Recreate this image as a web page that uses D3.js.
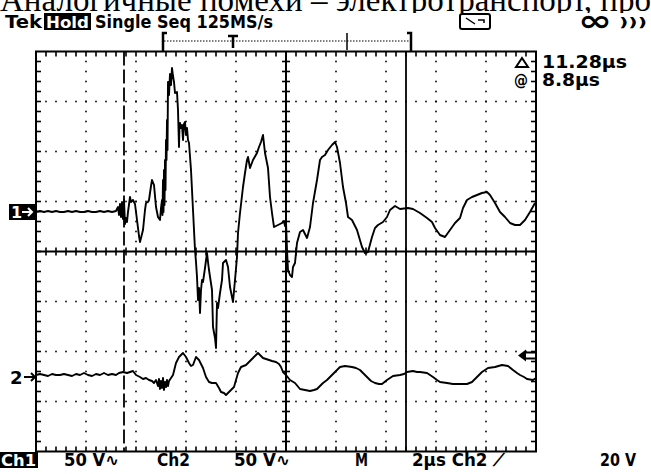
<!DOCTYPE html>
<html><head><meta charset="utf-8">
<script src="https://cdn.jsdelivr.net/npm/d3@7"></script>
<style>body{margin:0;background:#fff}svg{display:block}</style>
</head><body><svg id="c" width="651" height="474"></svg>
<script>
// ---- data (time in µs from left edge of screen, volts relative to channel ground) ----
const ch1Time=[0,0.16,0.32,0.48,0.64,0.80,0.96,1.12,1.28,1.44,1.60,1.76,1.92,2.08,2.24,2.40,2.56,2.72,2.88,3.04,3.20,
3.28,3.32,3.36,3.40,3.44,3.48,3.52,3.56,3.60,3.64,3.68,3.76,3.80,3.88,3.96,4.04,4.12,4.16,4.24,4.28,4.36,4.40,4.48,4.52,4.60,4.64,4.72,4.80,4.88,4.96,5.00,5.04,5.06,5.08,5.10,5.12,5.14,5.16,5.18,5.20,5.22,5.24,5.26,5.28,5.32,5.36,5.40,5.44,5.48,5.52,5.56,5.64,5.68,5.72,5.74,5.76,5.80,5.84,5.88,5.92,5.96,6.00,6.04,6.08,6.12,6.20,6.28,6.36,6.40,6.44,6.48,6.52,6.56,6.60,6.64,6.68,6.76,6.84,6.88,6.92,7.04,7.08,7.16,7.20,7.24,7.28,7.36,7.44,7.48,7.60,7.68,7.76,7.88,7.96,8.04,8.08,8.16,8.28,8.36,8.44,8.48,8.56,8.68,8.84,8.92,9.00,9.08,9.16,9.28,9.36,9.44,9.52,9.68,9.84,9.92,9.96,10.00,10.04,10.08,10.16,10.24,10.28,10.36,10.44,10.56,10.68,10.84,10.96,11.08,11.24,11.36,11.44,11.56,11.68,11.84,11.96,12.04,12.16,12.28,12.40,12.48,12.64,12.84,13.04,13.16,13.28,13.44,13.56,13.68,13.88,14.04,14.16,14.36,14.56,14.88,15.08,15.36,15.64,15.84,15.96,16.16,16.36,16.56,16.76,16.96,17.08,17.24,17.44,17.64,17.84,18.04,18.16,18.36,18.56,18.76,18.96,19.16,19.36,19.56,19.76,19.96];
const ch1Volt=[0,1,0,1,0,1,0,0,1,0,1,0,0,1,0,0,1,0,1,0,1,
5,-3,8,-5,10,-7,12,-12,-6,-10,0,15,10,12,8,-8,-24,-30,-22,-18,2,9,10,12,26,32,27,5,-5,-8,4,12,-3,32,0,42,7,52,22,72,52,92,62,130,117,138,127,144,136,130,119,120,102,65,87,89,84,87,72,88,90,77,84,72,69,42,2,-38,-50,-65,-88,-76,-101,-78,-68,-70,-56,-41,-50,-58,-78,-115,-126,-136,-91,-96,-81,-68,-51,-48,-55,-75,-90,-68,-45,-21,-1,25,39,52,55,44,52,59,65,70,77,59,44,15,-1,-15,-13,-11,-9,-14,-10,-38,-58,-63,-65,-55,-51,-31,-20,-18,-26,-15,9,32,52,55,57,62,67,70,65,49,25,9,-5,-8,-18,-35,-41,-40,-25,-16,-13,-10,-5,2,6,3,4,3,-1,-6,-10,-16,-23,-25,-18,-11,-6,4,12,15,17,19,20,17,9,0,-5,-11,-13,-13,-8,0,9];
const ch2Time=[0,0.16,0.32,0.48,0.64,0.80,0.96,1.12,1.28,1.44,1.60,1.76,1.92,2.08,2.24,2.40,2.56,2.72,2.88,3.04,3.20,3.32,3.48,3.64,3.76,3.88,4.00,4.16,4.28,4.40,4.52,4.64,4.72,4.80,4.88,4.92,4.96,5.00,5.04,5.08,5.12,5.16,5.20,5.24,5.28,5.32,5.40,5.48,5.60,5.72,5.80,5.88,6.00,6.12,6.20,6.28,6.40,6.52,6.68,6.80,6.92,7.04,7.20,7.32,7.40,7.52,7.60,7.72,7.92,8.00,8.08,8.20,8.40,8.56,8.68,8.80,8.88,9.00,9.08,9.20,9.32,9.44,9.60,9.72,9.80,9.88,10.00,10.16,10.36,10.56,10.76,10.96,11.12,11.24,11.36,11.48,11.64,11.76,11.96,12.16,12.36,12.64,12.80,12.96,13.12,13.28,13.40,13.56,13.72,13.84,14.04,14.16,14.28,14.56,14.72,14.84,15.08,15.24,15.36,15.64,15.76,15.88,16.04,16.16,16.44,16.68,16.96,17.24,17.44,17.64,17.84,18.08,18.36,18.64,18.88,19.08,19.24,19.36,19.52,19.64,19.88,20.00];
const ch2Volt=[2,3,2,1,3,2,2,3,2,1,3,2,4,2,1,3,2,4,2,3,2,4,5,4,5,6,2,0,-2,-1,-3,-4,-6,-3,-9,-2,-12,-4,-11,-1,-13,-5,-10,-3,-9,-4,-1,2,14,20,22,24,20,14,11,12,20,17,9,0,-5,-6,-6,-11,-15,-16,-18,-15,-10,-3,4,10,12,16,19,22,24,21,19,18,17,16,15,13,10,5,2,-3,-6,-12,-13,-14,-13,-12,-9,-6,-3,0,5,10,11,10,9,7,3,-1,-4,-6,-7,-7,-3,-1,1,2,3,5,6,5,5,4,2,0,-3,-5,-6,-7,-7,-7,-5,0,5,9,10,12,11,7,4,2,0,-2,-3,-1];

const timeSpan=[0,20];            // µs across the screen (2 µs/div)
const divSpan=[-4,4];             // vertical divisions
const voltsPerDiv=[50,50];        // Ch1, Ch2
const groundDiv=[0.79,-2.51];     // channel ground positions (div from centre)
const triggerLevelDiv=-2.08;
const cursorTimes=[3.52,14.80];

const header=["Tek","Hold","Single Seq 125MS/s"];
const readouts=["11.28µs","8.8µs"];
const footer=["Ch1","50 V∿","Ch2","50 V∿","M","2µs Ch2 ⟋","20 V"];
const caption="Аналогичные помехи – электротранспорт, про";

// ---- drawing ----
const svg=d3.select("#c");
svg.append("rect").attr("width",651).attr("height",474).attr("fill","#fff");
const x=d3.scaleLinear().domain(timeSpan).range([36,536]);
const y=d3.scaleLinear().domain(divSpan).range([451.5,51.5]);
const FONT="'DejaVu Sans', sans-serif";

// caption line cut at the top (line of a document above the screenshot)
svg.append("text").attr("x",0).attr("y",11).attr("font-family","'Liberation Serif', serif")
  .attr("font-size",33).attr("fill","#000").text(caption);
// header band background so the caption's descenders stay above
svg.append("rect").attr("x",0).attr("y",13).attr("width",651).attr("height",20).attr("fill","#fff");

// dotted grid
const g=svg.append("g");
const vLines=d3.range(2,20,2).filter(t=>t!==10);
const hLines=[-3,-2,-1,1,2,3];
const dots=[];
vLines.forEach(t=>d3.range(-3.8,3.81,0.2).forEach(d=>dots.push([x(t),y(d)])));
hLines.forEach(d=>d3.range(0.4,19.61,0.4).forEach(t=>dots.push([x(t),y(d)])));
g.selectAll(".dot").data(dots).join("rect").attr("x",d=>d[0]-0.8).attr("y",d=>d[1]-0.8)
  .attr("width",1.6).attr("height",1.6).attr("fill","#000");

// border ticks
const tk=[];
d3.range(0.4,19.61,0.4).forEach(t=>{tk.push([x(t),y(4),x(t),y(4)+5]);tk.push([x(t),y(-4),x(t),y(-4)-5]);
  tk.push([x(t),y(0)-4,x(t),y(0)+4]);});
d3.range(-3.8,3.81,0.2).forEach(d=>{tk.push([x(0),y(d),x(0)+5,y(d)]);tk.push([x(20),y(d),x(20)-5,y(d)]);
  tk.push([x(10)-4,y(d),x(10)+4,y(d)]);});
g.selectAll(".tk").data(tk).join("line").attr("x1",d=>d[0]).attr("y1",d=>d[1]).attr("x2",d=>d[2]).attr("y2",d=>d[3])
  .attr("stroke","#000").attr("stroke-width",1.6);
g.append("line").attr("x1",x(0)).attr("x2",x(20)).attr("y1",y(0)).attr("y2",y(0)).attr("stroke","#000").attr("stroke-width",2);
g.append("line").attr("x1",x(10)).attr("x2",x(10)).attr("y1",y(4)).attr("y2",y(-4)).attr("stroke","#000").attr("stroke-width",2);
g.append("rect").attr("x",x(0)).attr("y",y(4)).attr("width",x(20)-x(0)).attr("height",y(-4)-y(4))
  .attr("fill","none").attr("stroke","#000").attr("stroke-width",2);

// cursors
svg.append("line").attr("x1",x(cursorTimes[0])).attr("x2",x(cursorTimes[0])).attr("y1",y(4)).attr("y2",y(-4))
  .attr("stroke","#000").attr("stroke-width",1.8).attr("stroke-dasharray","14,4");
svg.append("line").attr("x1",x(cursorTimes[1])).attr("x2",x(cursorTimes[1])).attr("y1",y(4)).attr("y2",y(-4))
  .attr("stroke","#000").attr("stroke-width",1.8);

// traces
function trace(times,volts,ch){
  const pts=times.map((t,i)=>[x(t),y(groundDiv[ch]+volts[i]/voltsPerDiv[ch])]);
  svg.append("path").attr("d",d3.line()(pts)).attr("fill","none").attr("stroke","#000")
    .attr("stroke-width",1.9).attr("stroke-linejoin","round");
}
trace(ch1Time,ch1Volt,0);
trace(ch2Time,ch2Volt,1);

// channel markers
const m1=y(groundDiv[0]);
svg.append("rect").attr("x",9).attr("y",m1-8).attr("width",26).attr("height",16).attr("fill","#000");
svg.append("text").attr("x",11).attr("y",m1+6).attr("font-family",FONT).attr("font-weight","bold").attr("font-size",16)
  .attr("fill","#fff").text("1");
svg.append("path").attr("d",`M22,${m1}H32M28,${m1-4}L32,${m1}L28,${m1+4}`).attr("stroke","#fff").attr("stroke-width",2).attr("fill","none");
const m2=y(groundDiv[1]);
svg.append("text").attr("x",10).attr("y",m2+7).attr("font-family",FONT).attr("font-weight","bold").attr("font-size",18)
  .attr("fill","#000").text("2");
svg.append("path").attr("d",`M24,${m2}H35M31,${m2-4}L35,${m2}L31,${m2+4}`).attr("stroke","#000").attr("stroke-width",2).attr("fill","none");
const mt=y(triggerLevelDiv);
svg.append("path").attr("d",`M518,${mt}L526,${mt-6}L526,${mt+6}Z`).attr("fill","#000");
svg.append("path").attr("d",`M524,${mt-3}H536M524,${mt+3}H536`).attr("stroke","#000").attr("stroke-width",2);

// header
const T=(s,xx,yy,opt={})=>svg.append("text").attr("x",xx).attr("y",yy).attr("font-family",FONT)
  .attr("font-weight","bold").attr("font-size",opt.fs||17).attr("fill",opt.fill||"#000")
  .attr("textLength",opt.len||null).attr("lengthAdjust","spacingAndGlyphs").text(s);
T(header[0],5,28,{len:37,fs:18});
svg.append("rect").attr("x",44).attr("y",13).attr("width",47).attr("height",17).attr("fill","#000");
T(header[1],46,28,{len:43,fill:"#fff",fs:16});
T(header[2],95,28,{len:178,fs:18});
// scope icon
svg.append("rect").attr("x",460).attr("y",14).attr("width",30).attr("height",15).attr("rx",2)
  .attr("fill","none").attr("stroke","#000").attr("stroke-width",2);
svg.append("path").attr("d","M466,18L475,24M478,20L484,20L484,23").attr("stroke","#000").attr("stroke-width",1.5).attr("fill","none");
T("∞",578,31,{len:34,fs:30});
T(")))",619,27,{len:28,fs:12});

// record bar
const barY=41;
svg.append("line").attr("x1",164).attr("x2",410).attr("y1",barY).attr("y2",barY).attr("stroke","#000")
  .attr("stroke-width",1.2).attr("stroke-dasharray","1.5,1.5");
svg.append("path").attr("d","M167,33H163V51").attr("stroke","#000").attr("stroke-width",2.5).attr("fill","none");
svg.append("path").attr("d","M407,33H411V51").attr("stroke","#000").attr("stroke-width",2.5).attr("fill","none");
svg.append("line").attr("x1",347).attr("x2",347).attr("y1",33).attr("y2",50).attr("stroke","#000").attr("stroke-width",1.5);
svg.append("path").attr("d","M228,36H238M233,36V48").attr("stroke","#000").attr("stroke-width",2.5).attr("fill","none");

// right readouts
svg.append("path").attr("d","M516,67L522,58L528,67Z").attr("fill","none").attr("stroke","#000").attr("stroke-width",2);
T(readouts[0],542,68,{len:85,fs:18});
T("@",514,86,{fs:15,len:14});
T(readouts[1],542,86,{len:58,fs:18});

// footer
svg.append("rect").attr("x",0).attr("y",452).attr("width",38).attr("height",16).attr("fill","#000");
T(footer[0],1,466,{len:35,fill:"#fff",fs:16});
T(footer[1],64,466,{len:55});
T(footer[2],157,466,{len:33});
T(footer[3],234,466,{len:56});
T(footer[4],355,466,{len:13});
T(footer[5],412,466,{len:93});
T(footer[6],600,466,{len:36});
</script></body></html>
